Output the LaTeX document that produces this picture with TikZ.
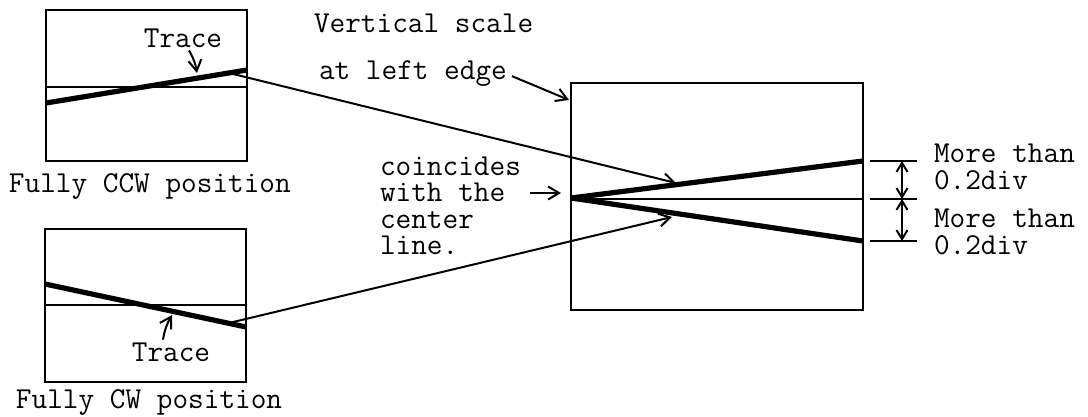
\documentclass[tikz,border=0pt]{standalone}
\usepackage{fontspec}
\usetikzlibrary{positioning, arrows.meta, calc}

\begin{document}
\begin{tikzpicture}[
    x=0.5pt, y=-0.5pt,
    line width=1pt,
    screen/.style={draw, line width=1.2pt},
    trace/.style={line width=2.6pt},
    centre/.style={line width=1pt},
    label/.style={font=\ttfamily\fontsize{15.2}{13.3}\selectfont, inner sep=0pt, align=left},
    pointer/.style={-{Straight Barb[length=5.5pt, width=6.5pt]}, line width=1pt},
    dimension/.style={{Straight Barb[length=4.5pt, width=5.5pt]}-{Straight Barb[length=4.5pt, width=5.5pt]}, line width=1pt}
]
    \useasboundingbox (0,0) rectangle (1088,417);

    % ================= FULLY CCW SCREEN =================
    \draw[screen] (46,10) rectangle (247,161);
    \draw[centre] (46,87) -- (247,87);
    \coordinate (CCWL) at (46,103);
    \coordinate (CCWR) at (247,70);
    \draw[trace] (CCWL) -- (CCWR);
    \coordinate (CCWFROM) at (229,73);

    \node[label] (TRACE1) at (183,38) {Trace};
    \coordinate (TRACE1TIP) at (197,73);
    \draw[pointer] ([xshift=3pt, yshift=-1pt]TRACE1.south) to[bend left=10] (TRACE1TIP);

    \node[label, anchor=base west] (CCWTXT) at (8,192) {Fully CCW position};

    % ================= FULLY CW SCREEN =================
    \draw[screen] (45,229) rectangle (246,382);
    \draw[centre] (45,305) -- (246,305);
    \coordinate (CWL) at (45,284);
    \coordinate (CWR) at (246,327);
    \draw[trace] (CWL) -- (CWR);
    \coordinate (CWFROM) at (229,323);

    \node[label] (TRACE2) at (171,352) {Trace};
    \coordinate (TRACE2TIP) at (172,315);
    \draw[pointer] ([xshift=-4pt, yshift=1pt]TRACE2.north) to[bend left=10] (TRACE2TIP);

    \node[label, anchor=base west] (CWTXT) at (15,408) {Fully CW position};

    % ================= RESULT SCREEN =================
    \draw[screen] (571,83) rectangle (863,310);
    \coordinate (ORIGIN) at (571,198);
    \draw[centre] (571,199) -- (863,199);
    \coordinate (UPR) at (863,161);
    \coordinate (LOWR) at (863,241);
    \draw[trace] (ORIGIN) -- (UPR);
    \draw[trace] (ORIGIN) -- (LOWR);

    \coordinate (UPTIP) at (676,183);
    \coordinate (LOWTIP) at (672,217);
    \draw[pointer] (CCWFROM) -- (UPTIP);
    \draw[pointer] (CWFROM) -- (LOWTIP);

    % ================= LABELS =================
    \node[label, anchor=base west] (VSCALE) at (313,33) {Vertical scale};
    \node[label, anchor=base west] (LEDGE) at (318,80) {at left edge};
    \coordinate (EDGETIP) at (569,100);
    \draw[pointer] ([xshift=2pt, yshift=-1pt]LEDGE.east) -- (EDGETIP);

    \node[label, anchor=base west] (COINC) at (379,255) {coincides\\with the\\center\\line.};
    \coordinate (COINCFROM) at (530,193);
    \coordinate (COINCTIP) at (561,193);
    \draw[pointer] (COINCFROM) -- (COINCTIP);

    % ================= DIMENSIONS =================
    \coordinate (TOPT) at (870,161);
    \coordinate (MIDT) at (870,199);
    \coordinate (BOTT) at (870,241);
    \draw (TOPT) -- ++(47,0);
    \draw (MIDT) -- ++(47,0);
    \draw (BOTT) -- ++(47,0);
    \draw[dimension] ($(TOPT)+(32,0)$) -- ($(MIDT)+(32,0)$);
    \draw[dimension] ($(MIDT)+(32,0)$) -- ($(BOTT)+(32,0)$);

    \node[label, anchor=base west] (UPDIM) at (933,190) {More than\\[0.6pt]0.2div};
    \node[label, anchor=base west] (LOWDIM) at (933,255) {More than\\[0.6pt]0.2div};

\end{tikzpicture}
\end{document}
